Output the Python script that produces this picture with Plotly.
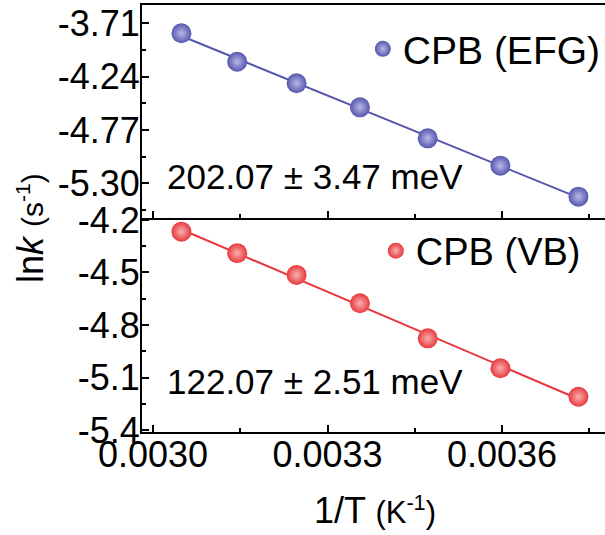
import numpy as np
import plotly.graph_objects as go

# ---- data ----
inv_T = [1/328, 1/318, 1/308, 1/298, 1/288, 1/278, 1/268]
lnk_efg = [-3.809, -4.092, -4.306, -4.545, -4.853, -5.125, -5.433]
lnk_vb = [-4.267, -4.390, -4.514, -4.676, -4.876, -5.047, -5.210]
label_efg = "CPB (EFG)"
label_vb = "CPB (VB)"
energy_efg = "202.07 ± 3.47 meV"
energy_vb = "122.07 ± 2.51 meV"

x_tickvals = [0.0030, 0.0033, 0.0036]
x_ticktext = ["0.0030", "0.0033", "0.0036"]
efg_tickvals = [-3.71, -4.24, -4.77, -5.30]
efg_ticktext = ["-3.71", "-4.24", "-4.77", "-5.30"]
vb_tickvals = [-4.2, -4.5, -4.8, -5.1, -5.4]
vb_ticktext = ["-4.2", "-4.5", "-4.8", "-5.1", "-5.4"]

BLUE = "#5656AE"
RED = "#E8383D"
FONT = "Liberation Sans, Arial, sans-serif"

def fit(x, y):
    p = np.polyfit(x, y, 1)
    xs = np.array([min(x), max(x)])
    return xs, np.polyval(p, xs)

fig = go.Figure()

xf, yf = fit(inv_T, lnk_efg)
fig.add_trace(go.Scatter(x=xf, y=yf, mode="lines", line=dict(color=BLUE, width=2),
                         showlegend=False, xaxis="x2", yaxis="y2"))
fig.add_trace(go.Scatter(x=inv_T, y=lnk_efg, mode="markers", name=label_efg,
                         marker=dict(size=20, color=BLUE, line=dict(width=0),
                                     gradient=dict(type="radial", color="#B8B8E8")),
                         xaxis="x2", yaxis="y2", legend="legend"))

xf, yf = fit(inv_T, lnk_vb)
fig.add_trace(go.Scatter(x=xf, y=yf, mode="lines", line=dict(color=RED, width=2),
                         showlegend=False, xaxis="x", yaxis="y"))
fig.add_trace(go.Scatter(x=inv_T, y=lnk_vb, mode="markers", name=label_vb,
                         marker=dict(size=20, color=RED, line=dict(width=0),
                                     gradient=dict(type="radial", color="#F8B0B0")),
                         xaxis="x", yaxis="y", legend="legend2"))

split = 0.5012
xrange = [0.002981, 0.003777]
axcommon = dict(showline=True, linecolor="black", linewidth=2, ticks="inside",
                tickcolor="black", tickwidth=1.5, showgrid=False, zeroline=False,
                automargin=False, ticklen=7, tickmode="array",
                tickfont=dict(family=FONT, size=36, color="black"))
minor_x = dict(ticks="inside", dtick=0.00015, tick0=0.0030, ticklen=4,
               tickcolor="black", tickwidth=1.5)

fig.update_layout(
    template="none",
    width=605, height=535,
    margin=dict(l=142, r=0, t=5, b=103, autoexpand=False),
    paper_bgcolor="white", plot_bgcolor="white",
    font=dict(family=FONT, color="black"),
    xaxis=dict(domain=[0, 1], range=xrange, anchor="y",
               tickvals=x_tickvals, ticktext=x_ticktext,
               ticklabelstandoff=-10, minor=minor_x, **axcommon),
    yaxis=dict(domain=[0, split], range=[-5.411, -4.189], anchor="x",
               tickvals=vb_tickvals, ticktext=vb_ticktext,
               ticklabelstandoff=-7,
               minor=dict(ticks="inside", dtick=0.15, tick0=-4.2, ticklen=4,
                          tickcolor="black", tickwidth=1.5),
               **axcommon),
    xaxis2=dict(domain=[0, 1], range=xrange, anchor="y2",
                tickvals=x_tickvals, ticktext=x_ticktext, showticklabels=False,
                mirror=True, minor=minor_x, **axcommon),
    yaxis2=dict(domain=[split, 1], range=[-5.645, -3.528], anchor="x2",
                tickvals=efg_tickvals, ticktext=efg_ticktext,
                ticklabelstandoff=-7,
                minor=dict(ticks="inside", dtick=0.265, tick0=-3.71, ticklen=4,
                           tickcolor="black", tickwidth=1.5),
                **axcommon),
    legend=dict(x=0.477, y=0.897, xanchor="left", yanchor="middle",
                bgcolor="rgba(0,0,0,0)", font=dict(family=FONT, size=39, color="black"),
                itemsizing="trace"),
    legend2=dict(x=0.505, y=0.424, xanchor="left", yanchor="middle",
                 bgcolor="rgba(0,0,0,0)", font=dict(family=FONT, size=38, color="black"),
                 itemsizing="trace"),
    annotations=[
        dict(text=energy_efg, xref="paper", yref="paper", x=(165-142)/463,
             y=(432-176)/427, xanchor="left", yanchor="middle", showarrow=False,
             font=dict(family=FONT, size=35, color="black")),
        dict(text=energy_vb, xref="paper", yref="paper", x=(165-142)/463,
             y=(432-381)/427, xanchor="left", yanchor="middle", showarrow=False,
             font=dict(family=FONT, size=35, color="black")),
        dict(text="1/T <span style='font-size:31px'>(K<sup>-1</sup>)</span>",
             xref="paper", yref="paper", x=(375-142)/463, y=(432-510)/427,
             xanchor="center", yanchor="middle", showarrow=False,
             font=dict(family=FONT, size=36, color="black")),
        dict(text="ln<i>k</i> <span style='font-size:30px'>(s<sup>-1</sup>)</span>",
             xref="paper", yref="paper", x=(30-142)/463, y=(432-228)/427,
             xanchor="center", yanchor="middle", showarrow=False, textangle=-90,
             font=dict(family=FONT, size=36, color="black")),
    ],
)

fig.write_html("out.html")
